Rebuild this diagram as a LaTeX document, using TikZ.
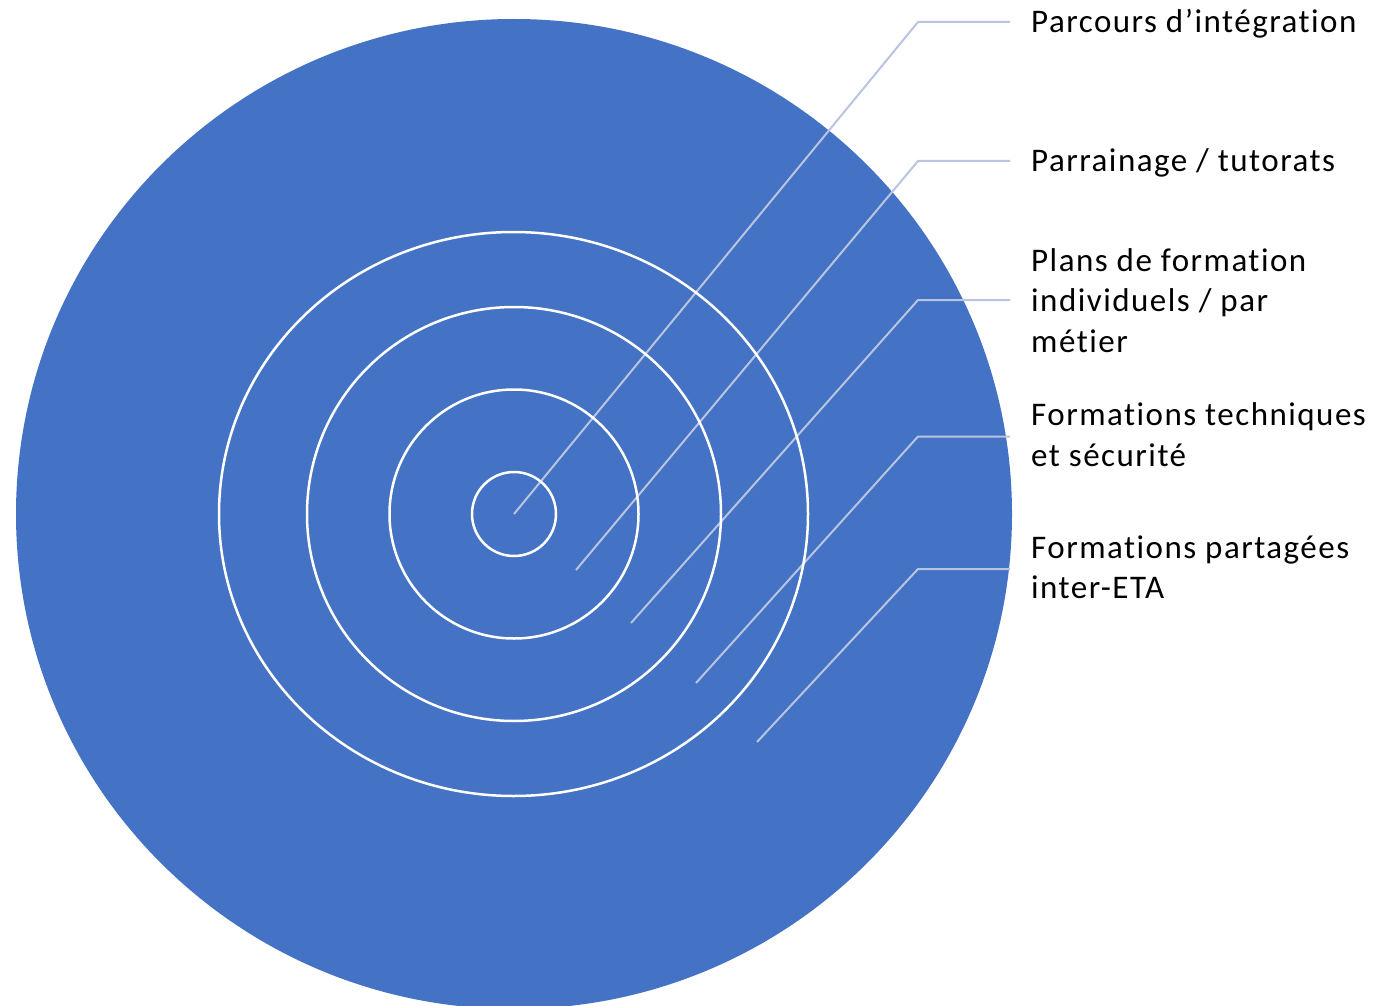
\documentclass[tikz,border=0pt]{standalone}
\usepackage{fontspec}
\setmainfont{Carlito}[Ligatures=NoCommon, LetterSpace=4.5]
\definecolor{discblue}{HTML}{4472C4}
\definecolor{leader}{RGB}{184,196,224}
\newcommand{\labstack}[1]{\vtop{\halign{##\hfil\cr #1\crcr}}}
\tikzset{
  ring/.style={draw=white, line width=2.5pt},
  conn/.style={draw=leader, line width=2pt},
  lab/.style={anchor=base west, inner sep=0pt, text=black,
    font=\fontsize{33}{40.7}\selectfont}
}
\begin{document}
\begin{tikzpicture}[x=1pt,y=-1pt]
\useasboundingbox (0,0) rectangle (1390,1006);
% big disc
\fill[discblue] (514,514) ellipse [x radius=498pt, y radius=495pt];
% connector coordinates
\coordinate (s1) at (514,514);
\coordinate (e1) at (918,22);
\coordinate (t1) at (1010,22);
\coordinate (s2) at (576,570);
\coordinate (e2) at (918,161);
\coordinate (t2) at (1010,161);
\coordinate (s3) at (631,623);
\coordinate (e3) at (918,300);
\coordinate (t3) at (1010,300);
\coordinate (s4) at (696,683);
\coordinate (e4) at (918,436.5);
\coordinate (t4) at (1010,436.5);
\coordinate (s5) at (757,742);
\coordinate (e5) at (918,569);
\coordinate (t5) at (1010,569);
\draw[conn] (s1) -- (e1) -- (t1);
\draw[conn] (s2) -- (e2) -- (t2);
\draw[conn] (s3) -- (e3) -- (t3);
\draw[conn] (s4) -- (e4) -- (t4);
\draw[conn] (s5) -- (e5) -- (t5);
% rings
\draw[ring] (513.5,514) ellipse [x radius=294.5pt, y radius=282pt];
\draw[ring] (514,514) circle [radius=207pt];
\draw[ring] (514,514) circle [radius=124.5pt];
\draw[ring] (514,514) circle [radius=42pt];
% labels
\node[lab] (l1) at (1031,32.3) {\labstack{Parcours d’intégration}};
\node[lab] (l2) at (1031,171.3) {\labstack{Parrainage / tutorats}};
\node[lab] (l3) at (1031,271) {\labstack{Plans de formation\cr individuels / par\cr métier}};
\node[lab] (l4) at (1031,425.7) {\labstack{Formations techniques\cr et sécurité}};
\node[lab] (l5) at (1031,558.2) {\labstack{Formations partagées\cr inter-ETA}};
\end{tikzpicture}
\end{document}
